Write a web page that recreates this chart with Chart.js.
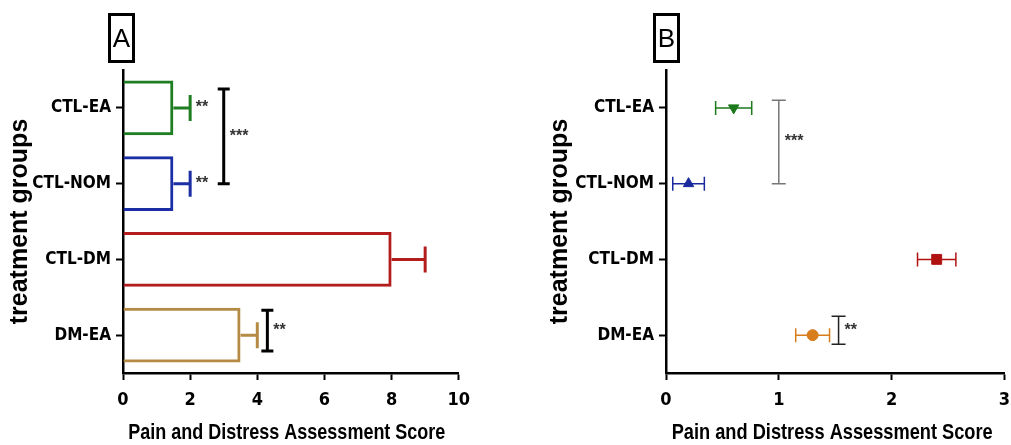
<!DOCTYPE html>
<html>
<head>
<meta charset="utf-8">
<script src="https://cdn.jsdelivr.net/npm/chart.js@4.4.1/dist/chart.umd.min.js"></script>
<style>
  body { margin: 0; background: #fff; }
  #page { position: relative; width: 1011px; height: 445px; overflow: hidden; background: #fff; }
  .panel { position: absolute; top: 0; height: 445px; }
  #wrapA { left: 0; width: 480px; }
  #wrapB { left: 520px; width: 500px; }
  .tag {
    position: absolute; top: 13px; width: 21px; height: 44px;
    border: 3px solid #000; text-align: center;
    font: 26px 'Liberation Sans', Arial, sans-serif; line-height: 44px;
  }
</style>
</head>
<body>
<div id="page">
  <div class="panel" id="wrapA"><canvas id="chartA" width="480" height="445"></canvas></div>
  <div class="panel" id="wrapB"><canvas id="chartB" width="500" height="445"></canvas></div>
  <div class="tag" style="left:108px">A</div>
  <div class="tag" style="left:653px">B</div>
</div>
<script>
// ---- data ----
const groups = ['CTL-EA', 'CTL-NOM', 'CTL-DM', 'DM-EA'];
const scoreA = [1.5, 1.5, 8, 3.5];
const errA = [0.5, 0.5, 1, 0.5];
const scoreB = [0.6, 0.2, 2.4, 1.3];
const errB = [0.16, 0.14, 0.17, 0.15];
const ticksA = [0, 2, 4, 6, 8, 10];
const ticksB = [0, 1, 2, 3];
const colorsA = ['#1f7d22', '#1b2ea3', '#b41d1d', '#b48a45'];
const colorsB = ['#1c7a1c', '#1a2a9e', '#b01212', '#d77d1c'];
const xTitle = 'Pain and Distress Assessment Score';
// significance brackets: x value, from / to category index
const bracketsA = [
  { x: 3.0, from: -0.25, to: 1.0, text: '***' },
  { x: 4.3, from: 2.67, to: 3.21, text: '**' }
];
const starsA = [
  { x: 2.17, at: 0, text: '**' },
  { x: 2.17, at: 1, text: '**' }
];
const bracketsB = [
  { x: 1.0, from: -0.1, to: 1.0, text: '***' },
  { x: 1.53, from: 2.75, to: 3.12, text: '**' }
];

const narrow = "'Liberation Sans Narrow', 'Arial Narrow', 'DejaVu Sans Condensed', sans-serif";
const yTickFont = { family: narrow, size: 17, weight: 'bold' };
const xTickFont = { family: narrow, size: 18, weight: 'bold' };
const yTitleFont = { family: "'Liberation Sans', Arial, sans-serif", size: 25, weight: 'bold' };

function xScaleOpts(max, ticks) {
  return {
    type: 'linear', min: 0, max: max,
    afterBuildTicks: s => { s.ticks = ticks.map(v => ({ value: v })); },
    afterFit: s => { s.height = 72; },
    border: { color: '#000', width: 2.5 },
    grid: { drawOnChartArea: false, color: '#000', tickLength: 7, tickWidth: 2 },
    ticks: { color: '#000', font: xTickFont, padding: 10 }
  };
}
function yScaleOpts(width) {
  return {
    type: 'category', offset: true,
    afterFit: s => { s.width = width; },
    border: { color: '#000', width: 2.5 },
    grid: { drawOnChartArea: false, offset: false, color: '#000', tickLength: 7, tickWidth: 2 },
    ticks: { color: '#000', font: yTickFont, padding: 5 },
    title: { display: true, text: 'treatment groups', color: '#000', font: yTitleFont, padding: { top: 5, bottom: 0 } }
  };
}

// x axis title, narrowed to the width it has in the figure
const xTitlePlugin = {
  id: 'xTitle',
  afterDraw(chart, args, opts) {
    const ctx = chart.ctx, a = chart.chartArea;
    ctx.save();
    ctx.fillStyle = '#000';
    ctx.font = "bold 22px 'Liberation Sans', Arial, sans-serif";
    ctx.textAlign = 'center';
    ctx.textBaseline = 'middle';
    ctx.fillText(xTitle, (a.left + a.right) / 2 + opts.shift, 433, opts.width);
    ctx.restore();
  }
};

function drawBrackets(chart, list, color, lw, cap) {
  const ctx = chart.ctx, xs = chart.scales.x, ys = chart.scales.y;
  ctx.save();
  ctx.strokeStyle = color; ctx.lineWidth = lw; ctx.fillStyle = '#333';
  ctx.font = "bold 16px 'Liberation Sans', Arial, sans-serif";
  ctx.textBaseline = 'middle';
  list.forEach(b => {
    const x = xs.getPixelForValue(b.x);
    const y0 = ys.getPixelForValue(b.from), y1 = ys.getPixelForValue(b.to);
    ctx.beginPath();
    ctx.moveTo(x, y0); ctx.lineTo(x, y1);
    ctx.moveTo(x - cap, y0); ctx.lineTo(x + cap, y0);
    ctx.moveTo(x - cap, y1); ctx.lineTo(x + cap, y1);
    ctx.stroke();
    ctx.fillText(b.text, x + 6, (y0 + y1) / 2);
  });
  ctx.restore();
}

/* bar chart A with one sided error bars */
const errorPluginA = {
  id: 'errA',
  afterDatasetsDraw(chart) {
    const ctx = chart.ctx, xs = chart.scales.x, ys = chart.scales.y;
    ctx.save();
    ctx.lineWidth = 3;
    scoreA.forEach((v, i) => {
      const y = ys.getPixelForValue(i);
      const x0 = xs.getPixelForValue(v), x1 = xs.getPixelForValue(v + errA[i]);
      ctx.strokeStyle = colorsA[i];
      ctx.beginPath();
      ctx.moveTo(x0, y); ctx.lineTo(x1, y);
      ctx.moveTo(x1, y - 13); ctx.lineTo(x1, y + 13);
      ctx.stroke();
    });
    drawBrackets(chart, bracketsA, '#000', 3, 6);
    ctx.fillStyle = '#333';
    ctx.font = "bold 16px 'Liberation Sans', Arial, sans-serif";
    ctx.textBaseline = 'middle';
    starsA.forEach(s => ctx.fillText(s.text, xs.getPixelForValue(s.x), ys.getPixelForValue(s.at)));
    ctx.restore();
  }
};

new Chart(document.getElementById('chartA'), {
  type: 'bar',
  data: {
    labels: groups,
    datasets: [{
      data: scoreA,
      backgroundColor: 'rgba(255,255,255,0)',
      borderColor: colorsA,
      borderWidth: 3,
      barPercentage: 0.72,
      categoryPercentage: 1
    }]
  },
  options: {
    indexAxis: 'y',
    responsive: false,
    animation: false,
    layout: { padding: { top: 70, right: 21, left: 0, bottom: 0 } },
    plugins: { legend: { display: false }, tooltip: { enabled: false }, xTitle: { shift: -4, width: 317 } },
    scales: { x: xScaleOpts(10, ticksA), y: yScaleOpts(123) }
  },
  plugins: [errorPluginA, xTitlePlugin]
});

/* dot plot B with two sided error bars */
const errorPluginB = {
  id: 'errB',
  beforeDatasetsDraw(chart) {
    const ctx = chart.ctx, xs = chart.scales.x, ys = chart.scales.y;
    ctx.save();
    ctx.lineWidth = 1.5;
    scoreB.forEach((v, i) => {
      const y = ys.getPixelForValue(i);
      const x0 = xs.getPixelForValue(v - errB[i]), x1 = xs.getPixelForValue(v + errB[i]);
      ctx.strokeStyle = colorsB[i];
      ctx.beginPath();
      ctx.moveTo(x0, y); ctx.lineTo(x1, y);
      ctx.moveTo(x0, y - 7); ctx.lineTo(x0, y + 7);
      ctx.moveTo(x1, y - 7); ctx.lineTo(x1, y + 7);
      ctx.stroke();
    });
    ctx.restore();
  },
  afterDatasetsDraw(chart) {
    drawBrackets(chart, [bracketsB[0]], '#777', 1.5, 7);
    drawBrackets(chart, [bracketsB[1]], '#222', 1.5, 7);
  }
};

new Chart(document.getElementById('chartB'), {
  type: 'line',
  data: {
    labels: groups,
    datasets: [{
      data: scoreB,
      showLine: false,
      pointStyle: ['triangle', 'triangle', 'rect', 'circle'],
      rotation: [180, 0, 0, 0],
      pointRadius: [6, 6, 7, 5.5],
      pointBackgroundColor: colorsB,
      pointBorderColor: colorsB,
      pointBorderWidth: 1
    }]
  },
  options: {
    indexAxis: 'y',
    responsive: false,
    animation: false,
    layout: { padding: { top: 70, right: 6, left: 20, bottom: 0 } },
    plugins: { legend: { display: false }, tooltip: { enabled: false }, xTitle: { shift: -3, width: 321 } },
    scales: { x: xScaleOpts(3, ticksB), y: yScaleOpts(126) }
  },
  plugins: [errorPluginB, xTitlePlugin]
});
</script>
</body>
</html>
